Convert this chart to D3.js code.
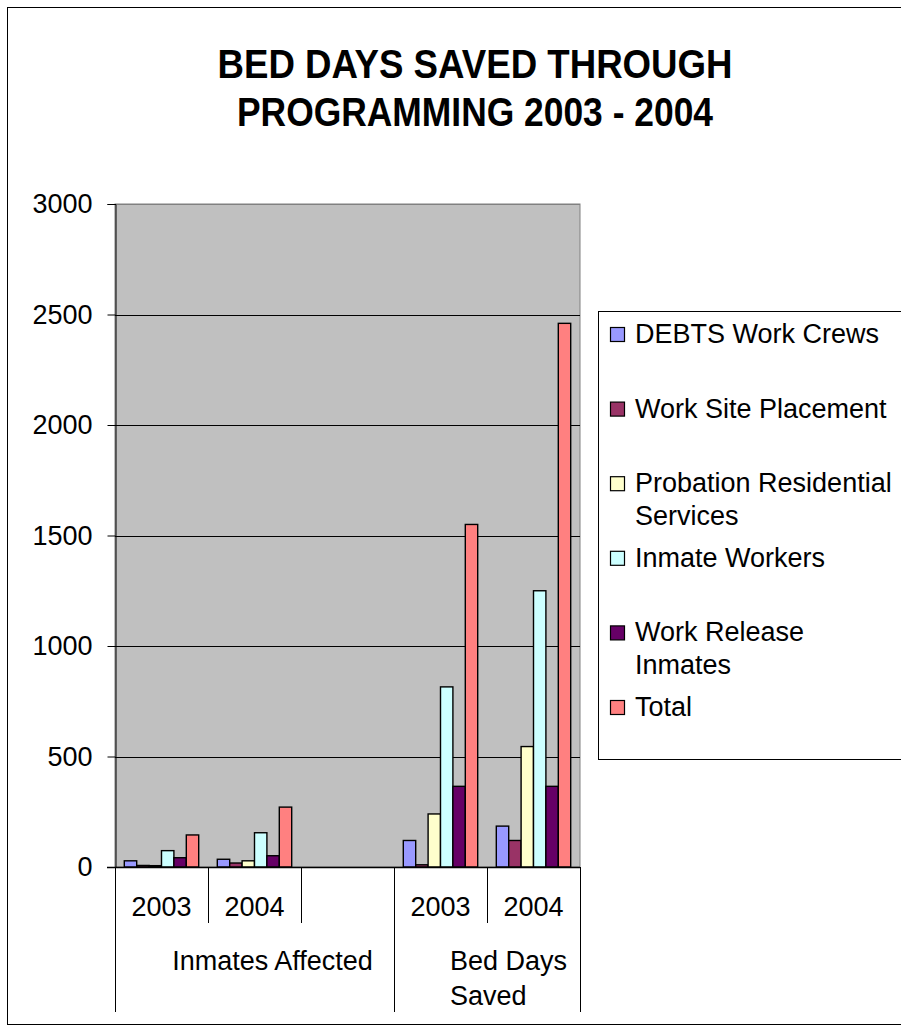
<!DOCTYPE html>
<html>
<head>
<meta charset="utf-8">
<script src="https://cdn.jsdelivr.net/npm/d3@7"></script>
<style>
  body { margin: 0; background: #fff; }
  svg text { font-family: "Liberation Sans", Arial, sans-serif; fill: #000; }
</style>
</head>
<body>
<script>
'use strict'

// category slots (third slot of the first group is left empty in the original)
const years = ['2003', '2004', '', '2003', '2004']
const groups = [
    { name: ['Inmates Affected'], from: 0, to: 3 },
    { name: ['Bed Days', 'Saved'], from: 3, to: 5 }
]

const seriesNames = [
    ['DEBTS Work Crews'],
    ['Work Site Placement'],
    ['Probation Residential', 'Services'],
    ['Inmate Workers'],
    ['Work Release', 'Inmates'],
    ['Total']
]
const seriesColors = ['#9999ff', '#993366', '#ffffcc', '#ccffff', '#660066', '#ff8080']

// values per slot
const debts = [28, 35, null, 120, 185]
const workSite = [7, 18, null, 10, 120]
const probation = [6, 28, null, 240, 545]
const inmateWorkers = [74, 155, null, 815, 1250]
const workRelease = [42, 51, null, 365, 365]
const total = [145, 271, null, 1550, 2460]
const seriesValues = [debts, workSite, probation, inmateWorkers, workRelease, total]

const yTicks = [0, 500, 1000, 1500, 2000, 2500, 3000]

const W = 901, H = 1031
const plot = { left: 115, right: 580, top: 204, bottom: 867 }

const svg = d3.select('body').append('svg')
    .attr('width', W)
    .attr('height', H)

// outer chart border
svg.append('rect')
    .attr('x', 7.5).attr('y', 7.5)
    .attr('width', W + 20).attr('height', 1017)
    .attr('fill', '#fff').attr('stroke', '#000')

// title
const titleLines = ['BED DAYS SAVED THROUGH', 'PROGRAMMING 2003 - 2004']
const titleWidths = [515, 476]
svg.selectAll('.title')
    .data(titleLines)
    .enter()
    .append('text')
    .attr('class', 'title')
    .attr('x', 475)
    .attr('y', (d, i) => 78 + i * 48)
    .attr('text-anchor', 'middle')
    .attr('font-size', 40)
    .attr('font-weight', 'bold')
    .attr('textLength', (d, i) => titleWidths[i])
    .attr('lengthAdjust', 'spacingAndGlyphs')
    .text(d => d)

const x = d3.scaleBand()
    .domain(d3.range(years.length))
    .range([plot.left, plot.right])

const xInner = d3.scaleBand()
    .domain(d3.range(seriesNames.length))
    .range([0, x.bandwidth()])
    .paddingInner(0)
    .paddingOuter(0.75)

const y = d3.scaleLinear()
    .domain([0, 3000])
    .range([plot.bottom, plot.top])

// plot area
svg.append('rect')
    .attr('x', plot.left).attr('y', plot.top)
    .attr('width', plot.right - plot.left)
    .attr('height', plot.bottom - plot.top)
    .attr('fill', '#c0c0c0')
    .attr('stroke', '#808080')

// gridlines
svg.selectAll('.grid')
    .data(yTicks.filter(t => t > 0))
    .enter()
    .append('line')
    .attr('x1', plot.left).attr('x2', plot.right)
    .attr('y1', d => Math.round(y(d)) + 0.5)
    .attr('y2', d => Math.round(y(d)) + 0.5)
    .attr('stroke', d => d === 3000 ? '#808080' : '#000')

// y axis
const yAxis = d3.axisLeft(y)
    .tickValues(yTicks)
    .tickSize(8)
    .tickPadding(15)
    .tickFormat(d3.format('d'))
const gy = svg.append('g')
    .attr('transform', `translate(${plot.left + 0.5},0)`)
    .call(yAxis)
gy.select('.domain').attr('stroke', '#000')
gy.selectAll('.tick line').attr('stroke', '#000')
gy.selectAll('.tick text')
    .attr('font-size', 27)
    .attr('font-family', '"Liberation Sans", Arial, sans-serif')

// bars
seriesValues.forEach((vals, s) => {
    svg.append('g')
        .selectAll('rect')
        .data(vals.map((v, i) => ({ v, i })).filter(d => d.v !== null))
        .enter()
        .append('rect')
        .attr('x', d => x(d.i) + xInner(s))
        .attr('y', d => y(d.v))
        .attr('width', xInner.bandwidth())
        .attr('height', d => y(0) - y(d.v))
        .attr('fill', seriesColors[s])
        .attr('stroke', '#000')
        .attr('stroke-width', 1.4)
})

// category axis line
svg.append('line')
    .attr('x1', plot.left - 8).attr('x2', plot.right)
    .attr('y1', plot.bottom + 0.5).attr('y2', plot.bottom + 0.5)
    .attr('stroke', '#000').attr('stroke-width', 1.5)

// year separators (short) and group separators (long)
const groupEdges = new Set()
groups.forEach(g => { groupEdges.add(g.from); groupEdges.add(g.to) })
d3.range(years.length + 1).forEach(i => {
    const xx = i < years.length ? x(i) : plot.right
    svg.append('line')
        .attr('x1', Math.round(xx) + 0.5).attr('x2', Math.round(xx) + 0.5)
        .attr('y1', plot.bottom)
        .attr('y2', groupEdges.has(i) ? 1012 : 923)
        .attr('stroke', '#000')
})

svg.selectAll('.year')
    .data(years)
    .enter()
    .append('text')
    .attr('x', (d, i) => x(i) + x.bandwidth() / 2)
    .attr('y', 916)
    .attr('text-anchor', 'middle')
    .attr('font-size', 27)
    .text(d => d)

// group labels
groups.forEach((g, gi) => {
    const x0 = x(g.from)
    const x1 = g.to < years.length ? x(g.to) : plot.right
    const cx = (x0 + x1) / 2
    const t = svg.append('text')
        .attr('font-size', 27)
        .attr('y', 970)
    if (g.name.length === 1) {
        t.attr('x', cx + 18).attr('text-anchor', 'middle').text(g.name[0])
    } else {
        t.selectAll('tspan')
            .data(g.name)
            .enter()
            .append('tspan')
            .attr('x', cx - 37)
            .attr('dy', (d, i) => i === 0 ? 0 : 35)
            .text(d => d)
    }
})

// legend
svg.append('rect')
    .attr('x', 598.5).attr('y', 311.5)
    .attr('width', 400).attr('height', 448)
    .attr('fill', '#fff').attr('stroke', '#000')

const legend = svg.append('g')
seriesNames.forEach((lines, i) => {
    const cy = 334 + i * 74.6
    legend.append('rect')
        .attr('x', 610.5).attr('y', cy - 6.5)
        .attr('width', 14).attr('height', 14)
        .attr('fill', seriesColors[i])
        .attr('stroke', '#000')
        .attr('stroke-width', 1.2)
    legend.append('text')
        .attr('font-size', 27)
        .attr('y', cy + 9)
        .selectAll('tspan')
        .data(lines)
        .enter()
        .append('tspan')
        .attr('x', 635)
        .attr('dy', (d, k) => k === 0 ? 0 : 33)
        .text(d => d)
})
</script>
</body>
</html>
